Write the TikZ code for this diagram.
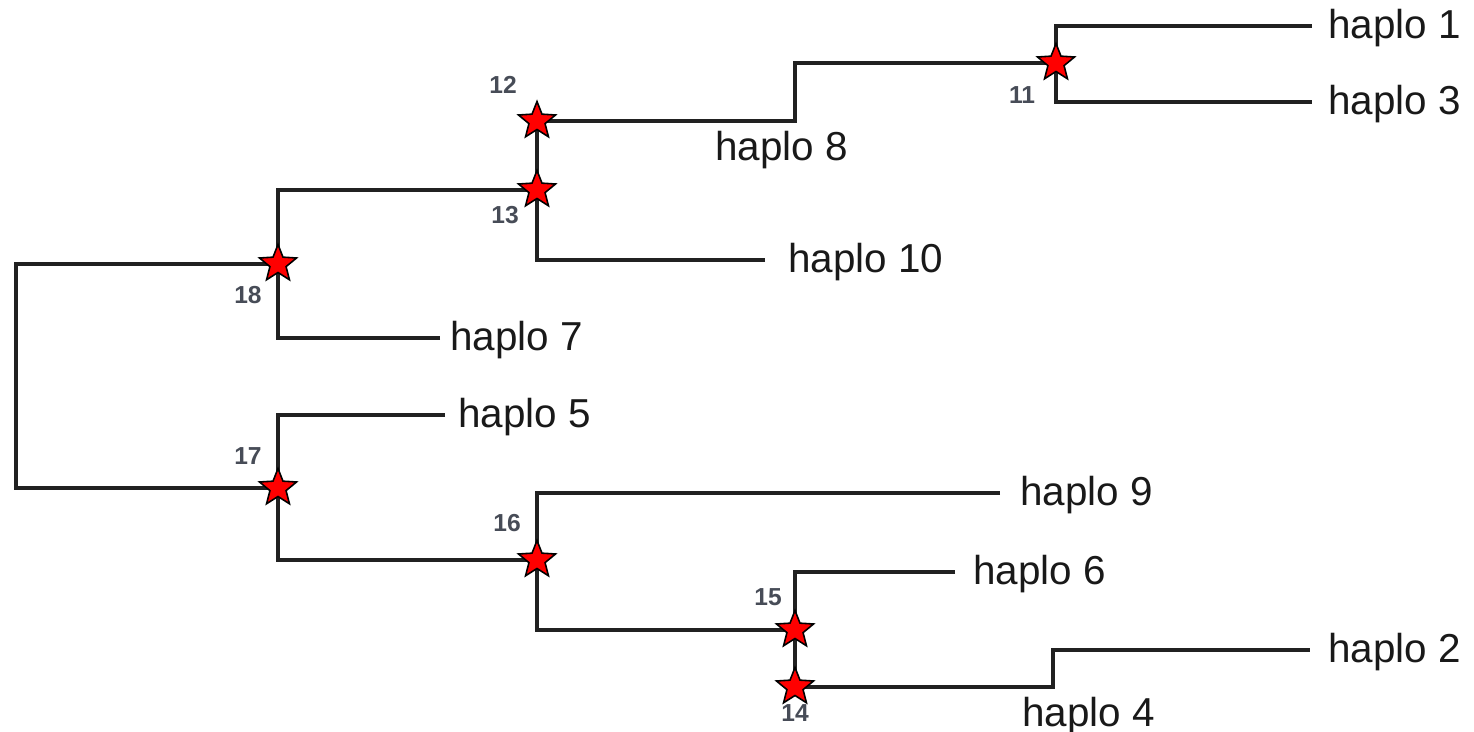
\documentclass[tikz,border=0pt]{standalone}
\usepackage{fontspec}
\setmainfont{Liberation Sans}
\usetikzlibrary{shapes.geometric}
\definecolor{branchcol}{rgb}{0.13,0.13,0.13}
\definecolor{numcol}{rgb}{0.28,0.30,0.34}
\tikzset{
  branch/.style={draw=branchcol, line width=1.8pt},
  mutstar/.style={star, star points=5, star point ratio=2.3, minimum size=0.78cm, inner sep=0pt, fill=red, draw=black, line width=0.9pt},
  leaf/.style={anchor=base west, inner sep=0pt, font=\fontsize{23}{27}\selectfont, text=black!90},
  num/.style={inner sep=0pt, font=\fontsize{14}{16}\selectfont\bfseries, text=numcol}
}
\begin{document}
\begin{tikzpicture}[x=0.02cm, y=-0.02cm]
\useasboundingbox (0,0) rectangle (1474,731);
% junctions
\coordinate (c18) at (278,264);
\coordinate (c13) at (537,190);
\coordinate (c12) at (537,121);
\coordinate (c11) at (1056,63);
\coordinate (c17) at (278,488);
\coordinate (c16) at (537,560);
\coordinate (c15) at (795,630);
\coordinate (c14) at (795,687);
\coordinate (r18) at (16,264);
\coordinate (r17) at (16,488);
% leaf line ends
\coordinate (e1) at (1312,26);
\coordinate (e3) at (1312,102);
\coordinate (e8) at (795,121);
\coordinate (e10) at (765,260);
\coordinate (e7) at (440,338);
\coordinate (e5) at (445,415);
\coordinate (e9) at (1000,493);
\coordinate (e6) at (955,572);
\coordinate (e2) at (1310,650);
\coordinate (e4) at (1053,687);
% branches
\draw[branch] (c18) -- (r18) -- (r17) -- (c17);
\draw[branch] (e7) -| (c18) |- (c13);
\draw[branch] (e10) -| (c13) -- (c12);
\draw[branch] (c12) -- (e8) |- (c11);
\draw[branch] (e1) -| (c11) |- (e3);
\draw[branch] (e5) -| (c17) |- (c16);
\draw[branch] (e9) -| (c16) |- (c15);
\draw[branch] (e6) -| (c15) -- (c14);
\draw[branch] (c14) -- (e4) |- (e2);
% stars
\foreach \n in {11,12,13,14,15,16,17,18} {\node[mutstar] (s\n) at (c\n) {};}
% node numbers
\node[num] (l12) at ([shift={(-34,-36)}]c12) {12};
\node[num] (l13) at ([shift={(-32,25)}]c13) {13};
\node[num] (l11) at ([shift={(-34,32)}]c11) {11};
\node[num] (l18) at ([shift={(-30,31)}]c18) {18};
\node[num] (l17) at ([shift={(-30,-32)}]c17) {17};
\node[num] (l16) at ([shift={(-30,-37)}]c16) {16};
\node[num] (l15) at ([shift={(-27,-33)}]c15) {15};
\node[num] (l14) at ([shift={(0,26)}]c14) {14};
% leaf labels
\node[leaf] (h1) at ([shift={(16,12)}]e1) {haplo 1};
\node[leaf] (h3) at ([shift={(16,12)}]e3) {haplo 3};
\node[leaf] (h8) at (715,160) {haplo 8};
\node[leaf] (h10) at ([shift={(23,12)}]e10) {haplo 10};
\node[leaf] (h7) at ([shift={(10,12)}]e7) {haplo 7};
\node[leaf] (h5) at ([shift={(13,12)}]e5) {haplo 5};
\node[leaf] (h9) at ([shift={(20,12)}]e9) {haplo 9};
\node[leaf] (h6) at ([shift={(18,12)}]e6) {haplo 6};
\node[leaf] (h2) at ([shift={(18,12)}]e2) {haplo 2};
\node[leaf] (h4) at (1022,726) {haplo 4};
\end{tikzpicture}
\end{document}
